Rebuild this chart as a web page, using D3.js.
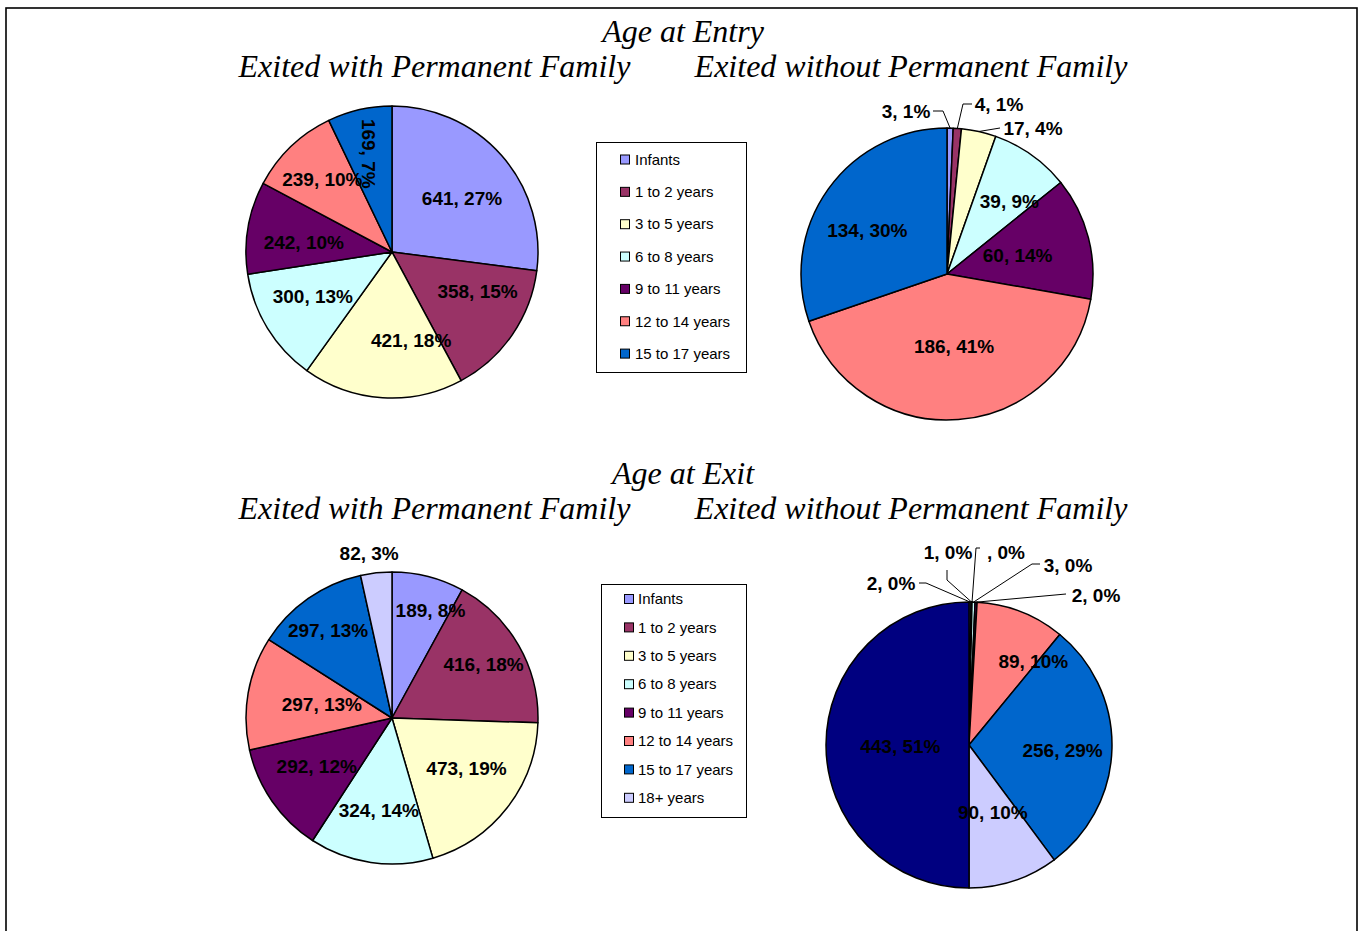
<!DOCTYPE html>
<html>
<head>
<meta charset="utf-8">
<script src="https://cdn.jsdelivr.net/npm/d3@7"></script>
<style>
  html, body { margin: 0; padding: 0; background: #fff; }
  svg { display: block; }
</style>
</head>
<body>
<svg id="chart" width="1364" height="931"></svg>
<script>
// ---------------- DATA ----------------
const categories = ["Infants", "1 to 2 years", "3 to 5 years", "6 to 8 years", "9 to 11 years", "12 to 14 years", "15 to 17 years", "18+ years", ""];
const colors = ["#9999FF", "#993366", "#FFFFCC", "#CCFFFF", "#660066", "#FF8080", "#0066CC", "#CCCCFF", "#000080"];

const entryWithValues    = [641, 358, 421, 300, 242, 239, 169];
const entryWithPct       = ["27%", "15%", "18%", "13%", "10%", "10%", "7%"];
const entryWithoutValues = [3, 4, 17, 39, 60, 186, 134];
const entryWithoutPct    = ["1%", "1%", "4%", "9%", "14%", "41%", "30%"];
const exitWithValues     = [189, 416, 473, 324, 292, 297, 297, 82];
const exitWithPct        = ["8%", "18%", "19%", "14%", "12%", "13%", "13%", "3%"];
const exitWithoutValues  = [2, 1, null, 3, 2, 89, 256, 90, 443];
const exitWithoutPct     = ["0%", "0%", "0%", "0%", "0%", "10%", "29%", "10%", "51%"];

const entryLegend = categories.slice(0, 7);
const exitLegend  = categories.slice(0, 8);

const titles = {
  entry: "Age at Entry",
  exit: "Age at Exit",
  withF: "Exited with Permanent Family",
  withoutF: "Exited without Permanent Family"
};

// ---------------- LAYOUT ----------------
const svg = d3.select("#chart");
const LABEL_FONT = "'Liberation Sans', Arial, sans-serif";
const TITLE_FONT = "'Liberation Serif', 'Times New Roman', serif";
const LABEL_SIZE = 19;

// outer frame
svg.append("rect")
  .attr("x", 6).attr("y", 8).attr("width", 1351).attr("height", 940)
  .attr("fill", "none").attr("stroke", "#000").attr("stroke-width", 1.6);

function title(text, x, y) {
  svg.append("text")
    .attr("x", x).attr("y", y)
    .attr("text-anchor", "middle")
    .attr("font-family", TITLE_FONT)
    .attr("font-style", "italic")
    .attr("font-size", 32)
    .attr("fill", "#000")
    .text(text);
}
title(titles.entry, 683, 42);
title(titles.withF, 434.5, 77);
title(titles.withoutF, 911, 77);
title(titles.exit, 683, 484);
title(titles.withF, 434.5, 519);
title(titles.withoutF, 911, 519);

const pie = d3.pie().sort(null).value(d => d || 0);

// spec: values, pct, center, radius, nudges (label offsets), rotated label idx, callouts
function drawPie(spec) {
  const g = svg.append("g").attr("transform", `translate(${spec.cx},${spec.cy})`);
  const arcs = pie(spec.values);
  const arc = d3.arc().innerRadius(0).outerRadius(spec.r);

  g.selectAll("path.slice")
    .data(arcs)
    .join("path")
    .attr("class", "slice")
    .attr("d", arc)
    .attr("fill", (d, i) => colors[i])
    .attr("stroke", "#000")
    .attr("stroke-width", 1.5)
    .attr("stroke-linejoin", "round");

  const labelR = spec.r * 0.62;
  const calloutIdx = new Set((spec.callouts || []).map(c => c.i));

  arcs.forEach((d, i) => {
    if (calloutIdx.has(i)) return;
    const mid = (d.startAngle + d.endAngle) / 2;
    const n = spec.nudges[i] || [0, 0];
    const x = Math.sin(mid) * labelR + n[0];
    const y = -Math.cos(mid) * labelR + n[1];
    const t = g.append("text")
      .attr("font-family", LABEL_FONT)
      .attr("font-weight", "bold")
      .attr("font-size", LABEL_SIZE)
      .attr("text-anchor", "middle")
      .attr("dy", "0.35em")
      .attr("fill", "#000")
      .text((spec.values[i] == null ? "" : spec.values[i]) + ", " + spec.pct[i]);
    if (spec.rotated === i) t.attr("transform", `translate(${x},${y}) rotate(90)`);
    else t.attr("x", x).attr("y", y);
  });

  (spec.callouts || []).forEach(c => {
    const d = arcs[c.i];
    const mid = (d.startAngle + d.endAngle) / 2;
    const p0 = [Math.sin(mid) * spec.r, -Math.cos(mid) * spec.r];
    const pts = [p0].concat(c.pts);
    g.append("path")
      .attr("d", d3.line()(pts))
      .attr("fill", "none")
      .attr("stroke", "#000")
      .attr("stroke-width", 1);
    g.append("text")
      .attr("x", c.label[0]).attr("y", c.label[1])
      .attr("font-family", LABEL_FONT)
      .attr("font-weight", "bold")
      .attr("font-size", LABEL_SIZE)
      .attr("text-anchor", "middle")
      .attr("dy", "0.35em")
      .attr("fill", "#000")
      .text((spec.values[c.i] == null ? "" : spec.values[c.i]) + ", " + spec.pct[c.i]);
  });
}

drawPie({
  values: entryWithValues, pct: entryWithPct, cx: 392, cy: 252, r: 146,
  nudges: [[2, 6], [11, -12], [25, -2], [-2, -3], [1, 6], [-7, -7], [-3, -10]],
  rotated: 6
});

drawPie({
  values: entryWithoutValues, pct: entryWithoutPct, cx: 947, cy: 274, r: 146,
  nudges: [[0, 0], [0, 0], [0, 0], [10, 1], [-17, 4], [0, -18], [-6, 9]],
  callouts: [
    { i: 0, label: [-41, -163], pts: [[-4, -163], [-14, -163]] },
    { i: 1, label: [52, -170], pts: [[16, -170], [25, -170]] },
    { i: 2, label: [86, -146], pts: [[53, -146]] }
  ]
});

drawPie({
  values: exitWithValues, pct: exitWithPct, cx: 392, cy: 718, r: 146,
  nudges: [[16, -20], [13, -9], [3, -5], [0, 3], [-1, -3], [19, 2], [-12, -14], [-13, -75]]
});

drawPie({
  values: exitWithoutValues, pct: exitWithoutPct, cx: 969, cy: 745, r: 143,
  nudges: [[0, 0], [0, 0], [0, 0], [0, 0], [0, 0], [32, -1], [5, 3], [-4, -17], [20, 1]],
  callouts: [
    { i: 0, label: [-78, -162], pts: [[-43, -162], [-50, -162]] },
    { i: 1, label: [-21, -193], pts: [[-22, -165], [-22, -175]] },
    { i: 2, label: [37, -193], pts: [[7, -197], [11, -197]] },
    { i: 3, label: [99, -180], pts: [[63, -181], [71, -181]] },
    { i: 4, label: [127, -150], pts: [[97, -151]] }
  ]
});

// ---------------- LEGENDS ----------------
function legend(items, x, y, w, h, firstRow, step, swX, txX) {
  const g = svg.append("g");
  g.append("rect")
    .attr("x", x).attr("y", y).attr("width", w).attr("height", h)
    .attr("fill", "#fff").attr("stroke", "#000").attr("stroke-width", 1);
  items.forEach((name, i) => {
    const cy = firstRow + i * step;
    g.append("rect")
      .attr("x", swX).attr("y", cy - 4.5).attr("width", 9).attr("height", 9)
      .attr("fill", colors[i]).attr("stroke", "#000").attr("stroke-width", 1);
    g.append("text")
      .attr("x", txX).attr("y", cy)
      .attr("dy", "0.35em")
      .attr("font-family", LABEL_FONT)
      .attr("font-size", 15)
      .attr("fill", "#000")
      .text(name);
  });
}
legend(entryLegend, 596.5, 142.5, 150, 230, 159.5, 32.35, 620.5, 635);
legend(exitLegend, 601.5, 584.5, 145, 233, 599, 28.4, 624.5, 638);
</script>
</body>
</html>
